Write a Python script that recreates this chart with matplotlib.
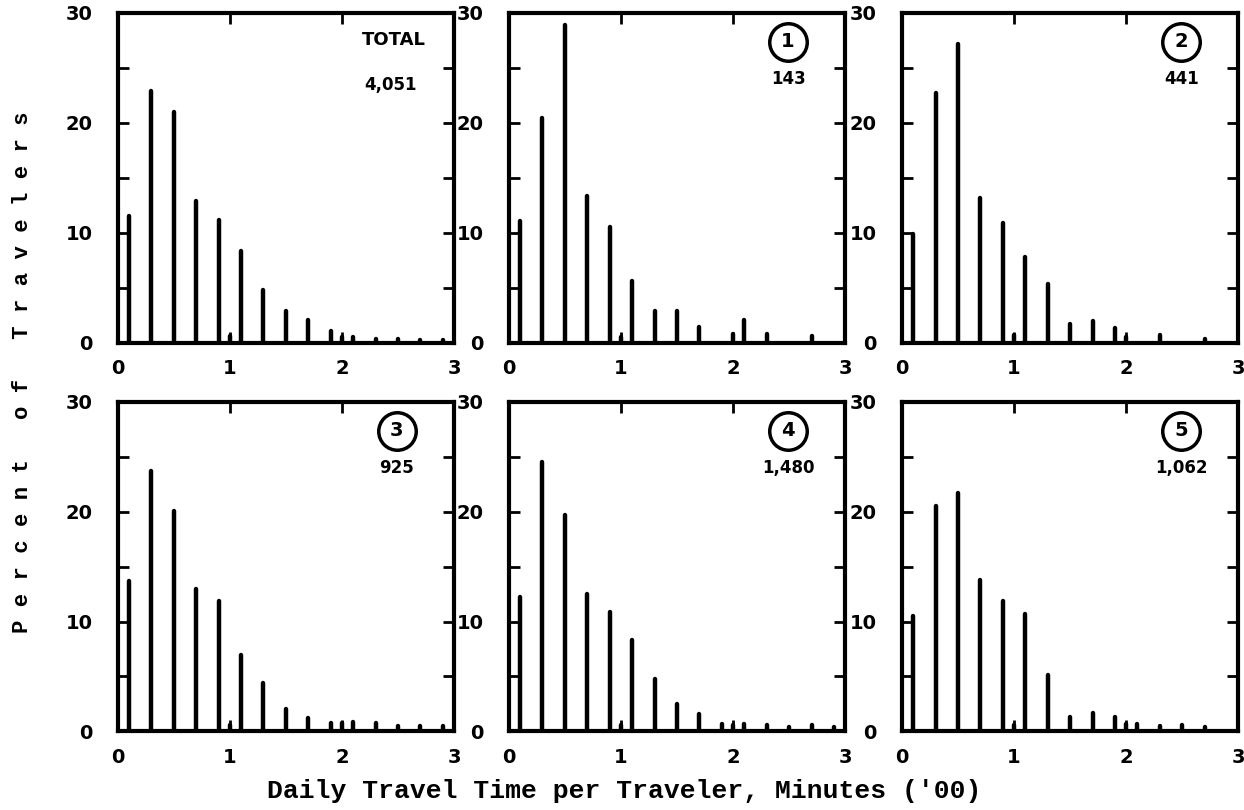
import matplotlib
matplotlib.use("Agg")
import matplotlib.pyplot as plt

# Daily travel time ('00 minutes) at which each spike sits
times = [0.1, 0.3, 0.5, 0.7, 0.9, 1.0, 1.1, 1.3, 1.5, 1.7, 1.9, 2.0, 2.1, 2.3, 2.5, 2.7, 2.9]

# Percent of travelers per panel
pct_total = [11.5, 22.9, 21.0, 12.9, 11.2, 0.6, 8.3, 4.8, 2.9, 2.1, 1.1, 0.55, 0.55, 0.35, 0.35, 0.25, 0.25]
pct_1 = [11.1, 20.4, 28.9, 13.3, 10.5, 0.5, 5.6, 2.9, 2.9, 1.45, 0.0, 0.75, 2.1, 0.75, 0.0, 0.6, 0.0]
pct_2 = [9.9, 22.7, 27.2, 13.2, 10.9, 0.67, 7.8, 5.3, 1.7, 2.0, 1.3, 0.5, 0.0, 0.67, 0.0, 0.3, 0.0]
pct_3 = [13.7, 23.7, 20.1, 13.0, 11.9, 0.6, 7.0, 4.45, 2.0, 1.2, 0.75, 0.75, 0.85, 0.8, 0.5, 0.45, 0.45]
pct_4 = [12.2, 24.5, 19.7, 12.5, 10.9, 0.6, 8.3, 4.8, 2.5, 1.6, 0.67, 0.6, 0.67, 0.6, 0.36, 0.6, 0.36]
pct_5 = [10.5, 20.5, 21.7, 13.8, 11.9, 0.6, 10.7, 5.1, 1.3, 1.7, 1.3, 0.7, 0.67, 0.5, 0.6, 0.4, 0.0]

panel_ids = ["TOTAL", "1", "2", "3", "4", "5"]
panel_counts = ["4,051", "143", "441", "925", "1,480", "1,062"]
panel_values = [pct_total, pct_1, pct_2, pct_3, pct_4, pct_5]

x_ticks = [0, 1, 2, 3]
y_ticks = [0, 5, 10, 15, 20, 25, 30]
y_ticklabels = ["0", "", "10", "", "20", "", "30"]

fig = plt.figure(figsize=(12.44, 8.10), dpi=100)

lefts = [0.0945, 0.409, 0.725]
bottoms = [0.577, 0.097]
w, h = 0.2705, 0.407

for i in range(6):
    r, c = divmod(i, 3)
    ax = fig.add_axes([lefts[c], bottoms[r], w, h])
    ax.vlines(times, 0, panel_values[i], colors="black", linewidth=3.2,
              capstyle="round")
    ax.set_xlim(0, 3)
    ax.set_ylim(0, 30)
    ax.set_xticks(x_ticks)
    ax.set_xticklabels([str(t) for t in x_ticks])
    ax.set_yticks(y_ticks)
    ax.set_yticklabels(y_ticklabels)
    ax.tick_params(axis="both", direction="in", length=8, width=2,
                   top=True, right=True, labelsize=14)
    ax.tick_params(axis="y", pad=18)
    ax.tick_params(axis="x", pad=12)
    for lab in ax.get_xticklabels() + ax.get_yticklabels():
        lab.set_fontweight("bold")
    for sp in ax.spines.values():
        sp.set_linewidth(3)

    if panel_ids[i] == "TOTAL":
        ax.text(0.82, 0.918, "TOTAL", transform=ax.transAxes, ha="center",
                va="center", fontsize=13, fontweight="bold")
        ax.text(0.81, 0.78, panel_counts[i], transform=ax.transAxes,
                ha="center", va="center", fontsize=12, fontweight="bold")
    else:
        ax.plot([0.83], [0.912], transform=ax.transAxes, marker="o",
                markersize=27, markerfacecolor="none", markeredgecolor="black",
                markeredgewidth=2.5, clip_on=False)
        ax.text(0.83, 0.912, panel_ids[i], transform=ax.transAxes,
                ha="center", va="center", fontsize=14, fontweight="bold")
        ax.text(0.83, 0.80, panel_counts[i], transform=ax.transAxes,
                ha="center", va="center", fontsize=12, fontweight="bold")

fig.text(0.5016, 0.0235, "Daily Travel Time per Traveler, Minutes ('00)",
         ha="center", va="center", fontsize=19, fontweight="bold",
         family="Liberation Mono")
fig.text(0.018, 0.541, "P e r c e n t   o f   T r a v e l e r s",
         ha="center", va="center", rotation=90, fontsize=16,
         fontweight="bold", family="Liberation Mono")

fig.savefig("out.png", dpi=100)
